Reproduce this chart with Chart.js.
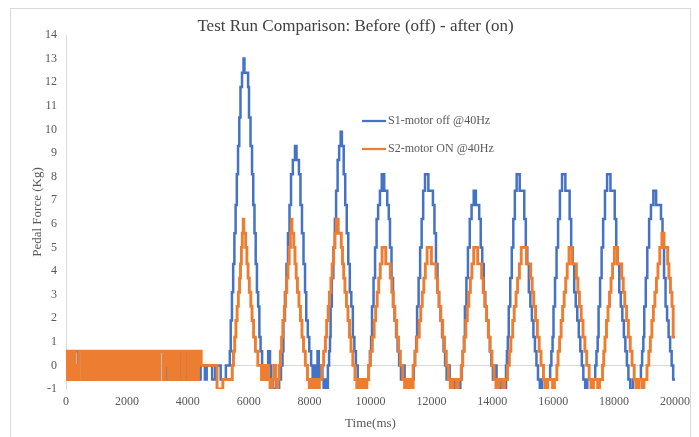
<!DOCTYPE html>
<html>
<head>
<meta charset="utf-8">
<title>Test Run Comparison</title>
<script src="https://cdn.jsdelivr.net/npm/chart.js@4.4.1/dist/chart.umd.min.js"></script>
<style>
  html, body { margin: 0; padding: 0; background: #ffffff; }
  #wrap { width: 699px; height: 437px; }
</style>
</head>
<body>
<div id="wrap"><canvas id="forceChart" width="699" height="437"></canvas></div>
<script>
// [time (ms), force (kg)] change points; the signal steps in ~0.62 kg levels
const s1Points = [
  [0,0.6],[60,-0.6],[200,0.6],[260,-0.6],[400,0.6],[430,-0.6],[700,0.6],[760,-0.6],[950,0.6],[1000,-0.6],
  [1250,0.6],[1300,-0.6],[1500,0.6],[1540,-0.6],[1750,0.6],[1800,-0.6],[1950,0.6],[2000,-0.6],[2150,0.6],[2200,-0.6],
  [2400,0.6],[2440,-0.6],[2600,0.6],[2650,-0.6],[2800,0.6],[2850,-0.6],[3050,0.6],[3090,-0.6],[3250,0.6],[3290,-0.6],
  [3500,0.6],[3540,-0.6],[3740,0.6],[3780,-0.6],[3960,0.6],[4000,-0.6],[4150,0.6],[4190,-0.6],[4370,0.6],[4420,-0.6],
  [4560,0],[4620,-0.6],[4800,0],[4900,-0.6],[5080,0],[5250,-0.6],[5380,0],
  [5410,0.6],[5450,1.9],[5490,3.1],[5530,4.3],[5570,5.6],[5610,6.8],[5650,8.1],[5690,9.3],[5730,10.5],[5780,11.8],
  [5830,12.4],[5860,13.0],[5980,12.4],[6010,11.8],[6060,10.5],[6110,9.3],[6150,8.1],[6190,6.8],[6230,5.6],[6270,4.3],
  [6310,3.1],[6350,2.5],[6390,1.2],[6440,0.6],[6490,0],[6560,-0.6],[6640,0],[6700,0.6],[6740,0],[6800,-0.6],
  [6900,-1],[6960,-0.6],[7000,-1],[7060,-0.6],[7110,0],
  [7140,0.6],[7190,1.9],[7240,3.1],[7290,4.3],[7340,5.6],[7390,6.8],[7450,8.1],[7520,8.7],[7570,9.3],[7650,8.7],
  [7700,8.1],[7750,6.8],[7800,5.6],[7850,4.3],[7890,3.1],[7940,1.9],[7990,1.2],[8050,0.6],[8100,0],[8150,-0.6],
  [8200,0],[8260,-0.6],[8300,0.6],[8340,-0.6],[8420,0],[8460,-0.6],[8500,-1],[8560,-0.6],[8600,-1],[8640,0],[8670,0.6],
  [8690,1.2],[8730,2.5],[8780,3.7],[8830,5.0],[8870,6.2],[8920,7.4],[8970,8.7],[9020,9.3],[9060,9.9],[9120,9.3],
  [9170,8.1],[9220,6.8],[9270,5.6],[9320,4.3],[9370,3.1],[9420,2.5],[9470,1.2],[9520,0.6],[9580,0],[9650,-0.6],
  [9720,-1],[9800,-0.6],[9860,-1],[9940,-0.6],[9980,0],[10020,0.6],
  [10050,1.2],[10100,2.5],[10150,3.7],[10200,5.0],[10250,6.2],[10310,6.8],[10370,7.4],[10450,8.1],[10550,7.4],[10600,6.8],
  [10640,6.2],[10690,5.0],[10740,3.7],[10790,2.5],[10840,1.9],[10890,1.2],[10940,0.6],[11000,0],[11060,-0.6],[11120,0],
  [11160,-0.6],[11230,-1],[11300,-0.6],[11360,-1],[11420,-0.6],[11460,0],[11500,0.6],
  [11530,1.2],[11580,2.5],[11630,3.7],[11680,5.0],[11730,6.2],[11790,7.4],[11900,8.1],[12050,7.4],[12100,6.8],[12150,5.6],
  [12200,4.3],[12250,3.1],[12300,2.5],[12350,1.9],[12400,1.2],[12450,0.6],[12500,0],[12550,-0.6],[12600,0],[12640,-0.6],
  [12750,-1],[12850,-0.6],[12950,-1],[13000,-0.6],[13030,0],[13070,0.6],
  [13100,1.2],[13150,2.5],[13200,3.7],[13260,5.0],[13320,6.2],[13390,6.8],[13460,7.4],[13570,6.8],[13620,6.2],[13670,5.0],
  [13720,4.3],[13770,3.1],[13820,2.5],[13870,1.9],[13920,1.2],[13970,0.6],[14020,0],[14080,-0.6],[14140,0],[14200,-0.6],
  [14300,-1],[14380,-0.6],[14450,-1],[14480,0],[14510,0.6],
  [14540,1.2],[14590,2.5],[14640,3.7],[14690,5.0],[14740,6.2],[14800,7.4],[14900,8.1],[15050,7.4],[15100,6.2],[15150,5.0],
  [15200,4.3],[15250,3.1],[15300,2.5],[15350,1.9],[15400,1.2],[15450,0.6],[15500,0],[15560,-0.6],[15640,-1],[15760,-0.6],
  [15820,-1],[15900,-0.6],[15940,0],[15980,0.6],
  [16010,1.2],[16060,2.5],[16110,3.7],[16160,5.0],[16220,6.2],[16290,7.4],[16400,8.1],[16540,7.4],[16590,6.2],[16640,5.0],
  [16690,4.3],[16740,3.1],[16790,2.5],[16840,1.9],[16890,1.2],[16940,0.6],[16990,0],[17050,-0.6],[17120,-1],[17260,-0.6],
  [17310,-1],[17380,-0.6],[17420,0],[17460,0.6],
  [17490,1.2],[17540,2.5],[17590,3.7],[17640,5.0],[17700,6.2],[17770,7.4],[17880,8.1],[18020,7.4],[18070,6.2],[18120,5.0],
  [18170,4.3],[18220,3.1],[18270,2.5],[18320,1.9],[18370,1.2],[18420,0.6],[18470,0],[18530,-0.6],[18620,-1],[18760,-0.6],
  [18820,-1],[18880,-0.6],[18920,0],[18960,0.6],
  [18990,1.2],[19040,2.5],[19090,3.7],[19150,5.0],[19210,6.2],[19290,6.8],[19380,7.4],[19540,6.8],[19590,6.2],[19640,5.0],
  [19690,3.7],[19740,2.5],[19790,1.9],[19840,1.2],[19890,0.6],[19940,0],[19980,-0.6],[20000,-0.6]
];

const s2Points = [
  [0,-0.6],[30,0.6],[80,-0.6],[110,0],[140,0.6],[190,-0.6],[220,0.6],[270,-0.6],[300,0.6],[340,-0.6],
  [380,0],[420,-0.6],[520,0.6],[570,-0.6],[600,0.6],[650,0],[690,-0.6],[730,0.6],[770,-0.6],[800,0.6],
  [850,-0.6],[880,0.6],[920,-0.6],[960,0.6],[1010,0],[1040,-0.6],[1080,0.6],[1120,-0.6],[1160,0.6],[1200,-0.6],
  [1230,0.6],[1280,-0.6],[1320,0.6],[1360,-0.6],[1400,0.6],[1450,-0.6],[1480,0.6],[1530,0],[1560,-0.6],[1600,0.6],
  [1640,-0.6],[1680,0.6],[1730,-0.6],[1760,0.6],[1810,-0.6],[1850,0.6],[1890,-0.6],[1930,0.6],[1970,0],[2010,-0.6],
  [2050,0.6],[2090,-0.6],[2130,0.6],[2180,-0.6],[2210,0.6],[2260,-0.6],[2300,0.6],[2340,-0.6],[2380,0.6],[2420,0],
  [2460,-0.6],[2500,0.6],[2540,-0.6],[2580,0.6],[2630,-0.6],[2660,0.6],[2710,-0.6],[2750,0.6],[2790,-0.6],[2830,0.6],
  [2870,-0.6],[2910,0.6],[2950,0],[2990,-0.6],[3030,0.6],[3080,-0.6],[3200,0.6],[3240,-0.6],[3280,0.6],[3320,0],
  [3350,0.6],[3390,-0.6],[3430,0.6],[3470,-0.6],[3540,0.6],[3580,-0.6],[3620,0.6],[3660,0],[3700,-0.6],[3800,0.6],
  [3840,-0.6],[3880,0.6],[3920,-0.6],[4020,0.6],[4060,-0.6],[4100,0.6],[4140,0],[4180,-0.6],[4230,0.6],[4270,-0.6],
  [4310,0.6],[4350,-0.6],[4440,0.6],[4960,0],[5150,-1],[5460,-0.6],
  [5500,0],[5540,0.6],[5580,1.2],[5620,1.9],[5660,2.5],[5700,3.1],[5730,3.7],[5760,4.3],[5790,5.0],[5820,5.6],
  [5840,6.2],[5900,5.6],[5940,5.0],[5980,4.3],[6020,3.7],[6070,3.1],[6110,2.5],[6160,1.9],[6220,1.2],[6300,0.6],
  [6420,0],[6480,-0.6],[6530,0],[6580,-0.6],[6650,0],[6700,-0.6],[6780,-1],[6830,-0.6],[6880,0],[6920,-0.6],
  [6960,-1],[7000,-0.6],[7040,0],[7080,0.6],
  [7120,1.2],[7170,1.9],[7210,2.5],[7250,3.1],[7290,3.7],[7330,4.3],[7370,5.0],[7400,5.6],[7420,6.2],[7480,5.6],
  [7520,5.0],[7560,4.3],[7600,3.7],[7650,3.1],[7700,2.5],[7750,1.9],[7800,1.2],[7860,0.6],[7930,0],[7990,-0.6],
  [8060,-1],[8140,-0.6],[8190,-1],[8260,-0.6],[8320,-1],[8400,-0.6],[8460,0],[8520,0.6],
  [8560,1.2],[8610,1.9],[8650,2.5],[8700,3.1],[8740,3.7],[8790,4.3],[8830,5.0],[8880,5.6],[8940,6.2],[9040,5.6],
  [9080,5.0],[9120,4.3],[9160,3.7],[9210,3.1],[9260,2.5],[9310,1.9],[9360,1.2],[9420,0.6],[9490,0],[9550,-0.6],
  [9620,-1],[9700,-0.6],[9760,-1],[9830,-0.6],[9880,-1],[9940,-0.6],[10000,0],[10060,0.6],
  [10120,1.2],[10170,1.9],[10220,2.5],[10270,3.1],[10320,3.7],[10380,4.3],[10500,5.0],[10650,4.3],[10700,3.7],[10750,3.1],
  [10800,2.5],[10860,1.9],[10920,1.2],[10980,0.6],[11060,0],[11120,-0.6],[11190,-1],[11230,-0.6],[11280,-1],[11350,-0.6],
  [11400,-1],[11460,0],[11520,0.6],
  [11600,1.2],[11650,1.9],[11700,2.5],[11750,3.1],[11800,3.7],[11860,4.3],[12000,5.0],[12150,4.3],[12200,3.7],[12250,3.1],
  [12310,2.5],[12370,1.9],[12430,1.2],[12490,0.6],[12560,0],[12620,-0.6],[12700,-1],[12820,-0.6],[12880,-1],[12980,-0.6],
  [13030,0],[13080,0.6],
  [13130,1.2],[13180,1.9],[13230,2.5],[13280,3.1],[13330,3.7],[13390,4.3],[13520,5.0],[13650,4.3],[13700,3.7],[13750,3.1],
  [13810,2.5],[13870,1.9],[13930,1.2],[13990,0.6],[14060,0],[14120,-0.6],[14200,-1],[14340,-0.6],[14400,-1],[14500,-0.6],
  [14560,0],[14610,0.6],
  [14670,1.2],[14720,1.9],[14780,2.5],[14830,3.1],[14890,3.7],[14950,4.3],[15120,5.0],[15260,4.3],[15310,3.7],[15360,3.1],
  [15420,2.5],[15480,1.9],[15540,1.2],[15600,0.6],[15680,0],[15740,-0.6],[15820,-1],[15980,-0.6],[16040,-1],[16120,-0.6],
  [16160,0],[16210,0.6],
  [16260,1.2],[16310,1.9],[16360,2.5],[16410,3.1],[16460,3.7],[16520,4.3],[16620,5.0],[16760,4.3],[16810,3.7],[16860,3.1],
  [16920,2.5],[16980,1.9],[17040,1.2],[17100,0.6],[17180,0],[17240,-0.6],[17320,-1],[17460,-0.6],[17520,-1],[17620,-0.6],
  [17660,0],[17700,0.6],
  [17750,1.2],[17800,1.9],[17850,2.5],[17900,3.1],[17950,3.7],[18010,4.3],[18110,5.0],[18250,4.3],[18300,3.7],[18350,3.1],
  [18410,2.5],[18470,1.9],[18530,1.2],[18590,0.6],[18660,0],[18720,-0.6],[18800,-1],[18920,-0.6],[18980,-1],[19080,-0.6],
  [19140,0],[19190,0.6],
  [19240,1.2],[19290,1.9],[19340,2.5],[19390,3.1],[19440,3.7],[19500,4.3],[19570,5.0],[19640,5.6],[19760,5.0],[19800,4.3],
  [19850,3.7],[19900,3.1],[19940,2.5],[19970,1.2],[20000,1.2]
];

const seriesLabels = ['S1-motor off @40Hz', 'S2-motor ON @40Hz'];
const seriesColors = ['#4472C4', '#ED7D31'];
const chartTitle = 'Test Run Comparison: Before (off) - after (on)';
const xTitle = 'Time(ms)';
const yTitle = 'Pedal Force (Kg)';

const serif = "'Liberation Serif', 'Times New Roman', serif";
const textGrey = '#595959';

const toXY = pts => pts.map(p => ({ x: p[0], y: p[1] }));

// light frame around the whole chart, like the office chart border
const framePlugin = {
  id: 'frame',
  beforeDraw(chart) {
    const c = chart.ctx;
    c.save();
    c.fillStyle = '#ffffff';
    c.fillRect(0, 0, chart.width, chart.height);
    c.strokeStyle = '#d9d9d9';
    c.lineWidth = 1;
    c.strokeRect(10.5, 8.5, 680, 440);
    c.restore();
  }
};

// legend sits inside the plot area
const insideLegend = {
  id: 'insideLegend',
  afterDraw(chart) {
    const c = chart.ctx;
    const x0 = chart.chartArea.left + 296;
    const y0 = chart.chartArea.top + 86;
    c.save();
    chart.data.datasets.forEach((ds, i) => {
      const y = y0 + i * 28;
      c.strokeStyle = ds.borderColor;
      c.lineWidth = 2.25;
      c.beginPath();
      c.moveTo(x0, y);
      c.lineTo(x0 + 24, y);
      c.stroke();
      c.fillStyle = textGrey;
      c.font = '12px ' + serif;
      c.textBaseline = 'middle';
      c.fillText(ds.label, x0 + 26, y);
    });
    c.restore();
  }
};

const ctx = document.getElementById('forceChart').getContext('2d');
const forceChart = new Chart(ctx, {
  type: 'line',
  data: {
    datasets: [
      {
        label: seriesLabels[0],
        data: toXY(s1Points),
        borderColor: seriesColors[0],
        borderWidth: 2.5,
        pointRadius: 0,
        stepped: 'after',
        order: 1
      },
      {
        label: seriesLabels[1],
        data: toXY(s2Points),
        borderColor: seriesColors[1],
        borderWidth: 2.9,
        pointRadius: 0,
        stepped: 'after',
        order: 0
      }
    ]
  },
  options: {
    responsive: false,
    animation: false,
    devicePixelRatio: 1,
    layout: { padding: { left: 14, right: 2, top: 8, bottom: 5 } },
    plugins: {
      legend: { display: false },
      tooltip: { enabled: false },
      title: {
        display: true,
        text: chartTitle,
        color: '#404040',
        font: { family: serif, size: 17, weight: 'normal', lineHeight: 1 },
        padding: { top: 10, bottom: 0 }
      }
    },
    scales: {
      x: {
        type: 'linear',
        min: 0,
        max: 20000,
        grid: { display: false, drawTicks: false },
        border: { display: false },
        ticks: {
          stepSize: 2000,
          color: textGrey,
          padding: 6,
          maxRotation: 0,
          font: { family: serif, size: 12 },
          callback: v => String(v)
        },
        title: {
          display: true,
          text: xTitle,
          color: textGrey,
          font: { family: serif, size: 13 },
          padding: { top: 0, bottom: 1 }
        },
        afterFit(scale) {
          scale.height = 43;
          scale.paddingRight = 24;
        }
      },
      y: {
        min: -1,
        max: 14,
        grid: {
          drawTicks: false,
          color: c => (c.tick && c.tick.value === 0 ? '#d9d9d9' : 'rgba(0,0,0,0)')
        },
        border: { display: true, color: '#d9d9d9' },
        ticks: {
          stepSize: 1,
          color: textGrey,
          padding: 9,
          font: { family: serif, size: 12 }
        },
        title: {
          display: true,
          text: yTitle,
          color: textGrey,
          font: { family: serif, size: 13 },
          padding: { top: 16, bottom: 0 }
        },
        afterFit(scale) {
          scale.width = 52;
        }
      }
    }
  },
  plugins: [framePlugin, insideLegend]
});
</script>
</body>
</html>
